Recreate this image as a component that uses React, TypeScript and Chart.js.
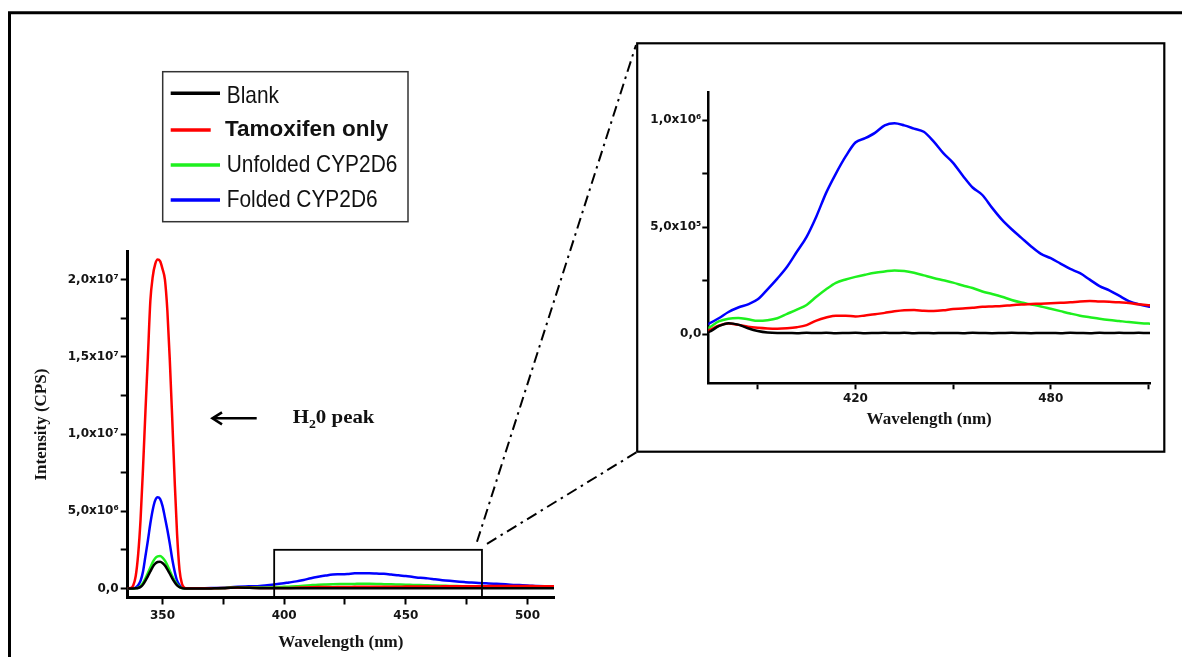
import React, { useEffect, useRef } from 'react';
import { Chart, registerables } from 'chart.js';

Chart.register(...registerables);

// Wavelength (nm)
const wavelengths = [335, 337, 338, 339, 340, 341, 342, 343, 344, 345, 346, 347, 348, 349, 350, 351, 352, 353, 354, 355, 356, 357, 358, 359, 360, 365, 370,
  375, 378, 381, 384, 387, 390, 393, 396, 399, 402, 405, 408, 411, 414, 417, 420, 423, 426, 429, 432, 435, 438, 441, 444, 447, 450,
  453, 456, 459, 462, 465, 468, 471, 474, 477, 480, 483, 486, 489, 492, 495, 498, 501, 504, 507, 510, 512];

// Intensity in units of 10^6 CPS
const blank = [0, 0, 0, 0.01, 0.03, 0.1, 0.25, 0.5, 0.8, 1.1, 1.4, 1.6, 1.71, 1.73, 1.65, 1.48, 1.23, 0.95, 0.65, 0.4, 0.2, 0.08, 0.02, 0, 0, 0, 0.002,
  0.011, 0.038, 0.052, 0.045, 0.028, 0.015, 0.008, 0.006, 0.006, 0.005, 0.007, 0.006, 0.007, 0.005, 0.006, 0.007, 0.005, 0.006, 0.007, 0.006,
  0.007, 0.005, 0.006, 0.005, 0.006, 0.006, 0.005, 0.007, 0.006, 0.005, 0.006, 0.007, 0.006, 0.005, 0.006, 0.006, 0.005, 0.007, 0.006, 0.005,
  0.007, 0.006, 0.007, 0.006, 0.007, 0.006, 0.006];

const tamoxifen = [0, 0.02, 0.2, 0.8, 2.2, 4.5, 7.8, 11.5, 15, 18.6, 20.2, 21, 21.3, 21.2, 20.7, 20, 18, 14.8, 11, 7, 3.5, 1.2, 0.3, 0.05, 0.01, 0.003, 0.008,
  0.019, 0.04, 0.05, 0.044, 0.035, 0.03, 0.027, 0.026, 0.028, 0.033, 0.043, 0.064, 0.078, 0.087, 0.087, 0.083, 0.088, 0.093, 0.1, 0.107,
  0.112, 0.113, 0.11, 0.109, 0.112, 0.118, 0.12, 0.124, 0.128, 0.13, 0.132, 0.136, 0.139, 0.141, 0.143, 0.145, 0.147, 0.149, 0.153, 0.155,
  0.153, 0.152, 0.149, 0.146, 0.14, 0.136, 0.135];

const unfolded = [0, 0, 0, 0.01, 0.05, 0.15, 0.35, 0.65, 1.0, 1.35, 1.7, 1.95, 2.08, 2.1, 2.0, 1.8, 1.5, 1.15, 0.8, 0.5, 0.25, 0.1, 0.03, 0.005, 0, 0.003, 0.01,
  0.031, 0.06, 0.073, 0.076, 0.07, 0.063, 0.066, 0.075, 0.095, 0.115, 0.137, 0.175, 0.21, 0.24, 0.256, 0.268, 0.278, 0.287, 0.293, 0.298,
  0.295, 0.287, 0.275, 0.263, 0.252, 0.241, 0.228, 0.216, 0.2, 0.188, 0.175, 0.16, 0.148, 0.139, 0.13, 0.119, 0.108, 0.097, 0.087, 0.08,
  0.073, 0.067, 0.062, 0.057, 0.053, 0.05, 0.049];

const folded = [0, 0, 0.01, 0.05, 0.2, 0.5, 1.1, 2.1, 3.1, 4.2, 5.1, 5.7, 5.9, 5.8, 5.35, 4.6, 3.8, 2.9, 1.9, 1.1, 0.5, 0.2, 0.05, 0.01, 0.003, 0.005, 0.02,
  0.05, 0.075, 0.104, 0.125, 0.14, 0.163, 0.21, 0.26, 0.315, 0.385, 0.455, 0.55, 0.66, 0.75, 0.83, 0.895, 0.915, 0.94, 0.975, 0.985,
  0.975, 0.96, 0.945, 0.9, 0.845, 0.8, 0.74, 0.685, 0.65, 0.59, 0.535, 0.49, 0.45, 0.41, 0.375, 0.355, 0.33, 0.305, 0.285, 0.255,
  0.225, 0.205, 0.18, 0.155, 0.14, 0.13, 0.125];

const seriesNames = ['Blank', 'Tamoxifen only', 'Unfolded CYP2D6', 'Folded CYP2D6'];
const seriesValues = [blank, tamoxifen, unfolded, folded];
const seriesColors = ['#000000', '#ff0000', '#1ef01e', '#0000ff'];

// Ticks
const mainXTicks = [350, 375, 400, 425, 450, 475, 500];
const mainXLabelled = [350, 400, 450, 500];
const mainYTicks = [0, 2.5, 5, 7.5, 10, 12.5, 15, 17.5, 20];
const mainYLabelValues = [0, 5, 10, 15, 20];
const mainYLabels = ['0,0', '5,0x10⁶', '1,0x10⁷', '1,5x10⁷', '2,0x10⁷'];
const insetXTicks = [390, 420, 450, 480, 510];
const insetXLabelled = [420, 480];
const insetYTicks = [0, 0.25, 0.5, 0.75, 1];
const insetYLabelValues = [0, 0.5, 1];
const insetYLabels = ['0,0', '5,0x10⁵', '1,0x10⁶'];

// Zoomed region marked on the main plot
const zoomBoxX = [395.9, 481.3];
const zoomBoxTop = 2.5;

const TICK_FONT = { family: '"DejaVu Sans", sans-serif', weight: 'bold' as const, size: 12 };
const TITLE_FONT = { family: '"Liberation Serif", serif', weight: 'bold' as const, size: 17 };
const TEXT_COLOR = '#141414';

function labelFor(values: number[], labels: string[], v: number): string {
  const i = values.findIndex((t) => Math.abs(t - v) < 1e-6);
  return i >= 0 ? labels[i] : '';
}

function makeDatasets(width: number) {
  return seriesNames.map((name, i) => ({
    label: name,
    data: wavelengths.map((w, k) => ({ x: w, y: seriesValues[i][k] })),
    borderColor: seriesColors[i],
    backgroundColor: seriesColors[i],
    borderWidth: width,
    pointRadius: 0,
    fill: false,
    cubicInterpolationMode: 'monotone' as const,
  }));
}

function axisCommon(tickLen: number, borderW: number) {
  return {
    grid: { drawOnChartArea: false, drawTicks: true, tickLength: tickLen, tickWidth: 2, tickColor: '#000' },
    border: { display: true, color: '#000', width: borderW },
  };
}

const mainOverlay = {
  id: 'mainOverlay',
  afterDraw(chart: any) {
    const ctx: CanvasRenderingContext2D = chart.ctx;
    const xs = chart.scales.x;
    const ys = chart.scales.y;
    const area = chart.chartArea;
    ctx.save();
    // outer frame
    ctx.strokeStyle = '#000';
    ctx.lineWidth = 3;
    ctx.beginPath();
    ctx.moveTo(9.5, 660);
    ctx.lineTo(9.5, 12.8);
    ctx.lineTo(1190, 12.8);
    ctx.stroke();

    // legend box
    ctx.lineWidth = 1.5;
    ctx.strokeStyle = '#333';
    ctx.strokeRect(162.7, 71.7, 245.3, 150);
    const rows = [
      { y: 93.3, base: 103.3, x2: 220, tx: 226.7, font: '24px "Liberation Sans", Arial, sans-serif', sx: 0.87 },
      { y: 130, base: 136, x2: 210.7, tx: 225, font: 'bold 22.5px "Liberation Sans", Arial, sans-serif', sx: 1 },
      { y: 165, base: 172.3, x2: 220, tx: 226.7, font: '24px "Liberation Sans", Arial, sans-serif', sx: 0.87 },
      { y: 200, base: 207.3, x2: 220, tx: 226.7, font: '24px "Liberation Sans", Arial, sans-serif', sx: 0.87 },
    ];
    rows.forEach((r, i) => {
      ctx.strokeStyle = seriesColors[i];
      ctx.lineWidth = 3.4;
      ctx.beginPath();
      ctx.moveTo(170.7, r.y);
      ctx.lineTo(r.x2, r.y);
      ctx.stroke();
      ctx.save();
      ctx.fillStyle = '#111';
      ctx.font = r.font;
      ctx.textBaseline = 'alphabetic';
      ctx.translate(r.tx, r.base);
      ctx.scale(r.sx, 1);
      ctx.fillText(seriesNames[i], 0, 0);
      ctx.restore();
    });

    // zoom box on main plot
    const bx1 = xs.getPixelForValue(zoomBoxX[0]);
    const bx2 = xs.getPixelForValue(zoomBoxX[1]);
    const by1 = ys.getPixelForValue(zoomBoxTop);
    const by2 = area.bottom;
    ctx.strokeStyle = '#000';
    ctx.lineWidth = 1.8;
    ctx.strokeRect(bx1, by1, bx2 - bx1, by2 - by1);

    // dash-dot connector lines
    ctx.setLineDash([11, 5, 2.5, 5]);
    ctx.lineWidth = 2;
    ctx.beginPath();
    ctx.moveTo(bx2 - 5, by1 - 8);
    ctx.lineTo(636, 45);
    ctx.stroke();
    ctx.beginPath();
    ctx.moveTo(bx2 + 5, by1 - 6);
    ctx.lineTo(637, 452);
    ctx.stroke();
    ctx.setLineDash([]);

    // arrow
    ctx.lineWidth = 2.6;
    ctx.beginPath();
    ctx.moveTo(256.7, 418.3);
    ctx.lineTo(213, 418.3);
    ctx.stroke();
    ctx.beginPath();
    ctx.moveTo(222, 412.3);
    ctx.lineTo(212.5, 418.3);
    ctx.lineTo(222, 424.3);
    ctx.stroke();

    // H2O peak label
    ctx.save();
    ctx.fillStyle = '#111';
    ctx.textBaseline = 'alphabetic';
    ctx.translate(292.7, 423.3);
    ctx.scale(1.1, 1);
    let x = 0;
    ctx.font = 'bold 19px "Liberation Serif", serif';
    ctx.fillText('H', x, 0);
    x += ctx.measureText('H').width;
    ctx.font = 'bold 12.5px "Liberation Serif", serif';
    ctx.fillText('2', x, 4.2);
    x += ctx.measureText('2').width;
    ctx.font = 'bold 19px "Liberation Serif", serif';
    ctx.fillText('0 peak', x, 0);
    ctx.restore();
    ctx.restore();
  },
};

const insetFrame = {
  id: 'insetFrame',
  beforeDraw(chart: any) {
    const ctx: CanvasRenderingContext2D = chart.ctx;
    ctx.save();
    ctx.fillStyle = '#fff';
    ctx.fillRect(0, 0, chart.width, chart.height);
    ctx.restore();
  },
  afterDraw(chart: any) {
    const ctx: CanvasRenderingContext2D = chart.ctx;
    ctx.save();
    ctx.strokeStyle = '#000';
    ctx.lineWidth = 2.2;
    ctx.strokeRect(1.2, 1.3, 527.1, 408.4);
    ctx.restore();
  },
};

export default function App() {
  const mainRef = useRef<HTMLCanvasElement>(null);
  const insetRef = useRef<HTMLCanvasElement>(null);

  useEffect(() => {
    const main = new Chart(mainRef.current as HTMLCanvasElement, {
      type: 'line',
      data: { datasets: makeDatasets(2.5) as any },
      options: {
        animation: false,
        responsive: false,
        maintainAspectRatio: false,
        layout: { padding: { left: 27, top: 251.7, right: 628, bottom: 0 } },
        plugins: { legend: { display: false }, tooltip: { enabled: false } },
        scales: {
          x: {
            type: 'linear',
            min: 335.7,
            max: 510.9,
            afterBuildTicks: (s: any) => { s.ticks = mainXTicks.map((v) => ({ value: v })); },
            afterFit: (s: any) => { s.height = 59.5; },
            ticks: {
              autoSkip: false, maxRotation: 0, padding: 4, color: TEXT_COLOR, font: TICK_FONT,
              callback: (v: any) => (mainXLabelled.includes(Number(v)) ? String(v) : ''),
            },
            ...axisCommon(7, 3),
            title: { display: true, text: 'Wavelength (nm)', font: TITLE_FONT, color: TEXT_COLOR, padding: { top: 4, bottom: 4 } },
          } as any,
          y: {
            type: 'linear',
            min: -0.589,
            max: 21.81,
            afterBuildTicks: (s: any) => { s.ticks = mainYTicks.map((v) => ({ value: v })); },
            afterFit: (s: any) => { s.width = 100.7; },
            ticks: {
              autoSkip: false, padding: 2, color: TEXT_COLOR, font: TICK_FONT,
              callback: (v: any) => labelFor(mainYLabelValues, mainYLabels, Number(v)),
            },
            ...axisCommon(7, 3),
            title: { display: true, text: 'Intensity (CPS)', font: TITLE_FONT, color: TEXT_COLOR, padding: { top: 4, bottom: 4 } },
          } as any,
        },
      },
      plugins: [mainOverlay],
    });

    const inset = new Chart(insetRef.current as HTMLCanvasElement, {
      type: 'line',
      data: { datasets: makeDatasets(2.5) as any },
      options: {
        animation: false,
        responsive: false,
        maintainAspectRatio: false,
        layout: { padding: { left: 0, top: 50.7, right: 16, bottom: 18.8 } },
        plugins: { legend: { display: false }, tooltip: { enabled: false } },
        scales: {
          x: {
            type: 'linear',
            min: 374.8,
            max: 510.5,
            afterBuildTicks: (s: any) => { s.ticks = insetXTicks.map((v) => ({ value: v })); },
            afterFit: (s: any) => { s.height = 50.9; },
            ticks: {
              autoSkip: false, maxRotation: 0, padding: 2, color: TEXT_COLOR, font: TICK_FONT,
              callback: (v: any) => (insetXLabelled.includes(Number(v)) ? String(v) : ''),
            },
            ...axisCommon(6, 2.5),
            title: { display: true, text: 'Wavelength (nm)', font: TITLE_FONT, color: TEXT_COLOR, padding: { top: 4, bottom: 4 } },
          } as any,
          y: {
            type: 'linear',
            min: -0.2287,
            max: 1.1274,
            afterBuildTicks: (s: any) => { s.ticks = insetYTicks.map((v) => ({ value: v })); },
            afterFit: (s: any) => { s.width = 72.3; },
            ticks: {
              autoSkip: false, padding: 1, color: TEXT_COLOR, font: TICK_FONT,
              callback: (v: any) => labelFor(insetYLabelValues, insetYLabels, Number(v)),
            },
            ...axisCommon(6, 2.5),
          } as any,
        },
      },
      plugins: [insetFrame],
    });

    return () => {
      main.destroy();
      inset.destroy();
    };
  }, []);

  return (
    <div style={{ position: 'fixed', left: 0, top: 0, width: 1182, height: 657, background: '#fff', overflow: 'hidden' }}>
      <canvas ref={mainRef} width={1182} height={657} style={{ position: 'absolute', left: 0, top: 0, width: 1182, height: 657, display: 'block' }} />
      <canvas ref={insetRef} width={530} height={411} style={{ position: 'absolute', left: 636, top: 42, width: 530, height: 411, display: 'block' }} />
    </div>
  );
}
